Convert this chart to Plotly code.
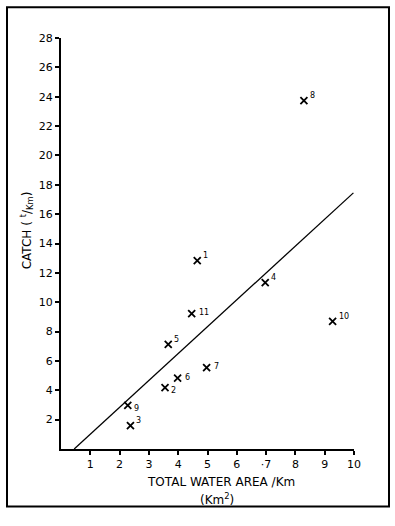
import plotly.graph_objects as go

# Data
site_labels = ["1", "2", "3", "4", "5", "6", "7", "8", "9", "10", "11"]
water_area = [4.65, 3.55, 2.37, 6.97, 3.66, 3.98, 4.97, 8.29, 2.28, 9.27, 4.46]
catch = [12.84, 4.18, 1.59, 11.34, 7.13, 4.83, 5.54, 23.74, 2.97, 8.70, 9.22]
label_kind = ["sup", "sub", "sup", "sup", "sup", "mid", "mid", "sup", "sub", "sup", "mid"]

fit_x = [0.45, 9.98]
fit_y = [0.0, 17.45]

x_ticks = [1, 2, 3, 4, 5, 6, 7, 8, 9, 10]
x_ticktext = ["1", "2", "3", "4", "5", "6", "·7", "8", "9", "10"]
y_ticks = [2, 4, 6, 8, 10, 12, 14, 16, 18, 20, 22, 24, 26, 28]

FONT = "DejaVu Sans"

fig = go.Figure()
fig.add_trace(go.Scatter(
    x=fit_x, y=fit_y, mode="lines",
    line=dict(color="black", width=1.3), hoverinfo="skip", showlegend=False))
fig.add_trace(go.Scatter(
    x=water_area, y=catch, mode="markers",
    marker=dict(symbol="x-thin", size=7, line=dict(color="black", width=1.8), color="black"),
    showlegend=False))

L, T = 61, 37.7
W, H = 293, 410.9
def px(x):
    return (x - L) / W
def py(y):
    return (T + H - y) / H

shift = {"sup": (4, 5), "sub": (4, -3), "mid": (5, 1)}
annotations = []
for xv, yv, lab, kind in zip(water_area, catch, site_labels, label_kind):
    dx, dy = shift[kind]
    annotations.append(dict(x=xv, y=yv, xref="x", yref="y", text=lab, showarrow=False,
                            xanchor="left", yanchor="middle", xshift=dx, yshift=dy,
                            font=dict(size=8, color="black", family=FONT)))

annotations += [
    dict(text="TOTAL WATER AREA /Km", xref="paper", yref="paper",
         x=px(221), y=py(482), xanchor="center", yanchor="middle",
         showarrow=False, font=dict(size=12)),
    dict(text="(Km<sup>2</sup>)", xref="paper", yref="paper",
         x=px(217), y=py(499), xanchor="center", yanchor="middle",
         showarrow=False, font=dict(size=12)),
    dict(text="CATCH ( <sup>t</sup>/<sub>Km</sub>)", xref="paper", yref="paper",
         x=px(27), y=py(230), xanchor="center", yanchor="middle", textangle=-90,
         showarrow=False, font=dict(size=12)),
]

fig.update_layout(
    width=395, height=526,
    margin=dict(l=L, r=395 - L - W, t=T, b=526 - T - H),
    paper_bgcolor="white", plot_bgcolor="white",
    font=dict(family=FONT, size=11, color="black"),
    xaxis=dict(range=[0, 10], tickvals=x_ticks, ticktext=x_ticktext,
               showgrid=False, zeroline=False, showline=True, linecolor="black",
               linewidth=2, ticks="outside", ticklen=4, tickwidth=1.5, tickcolor="black",
               tickfont=dict(size=11)),
    yaxis=dict(range=[0, 28], tickvals=y_ticks,
               showgrid=False, zeroline=False, showline=True, linecolor="black",
               linewidth=2, ticks="outside", ticklen=4, tickwidth=1.5, tickcolor="black",
               tickfont=dict(size=11)),
    shapes=[dict(type="rect", xref="paper", yref="paper",
                 x0=px(7), x1=px(389), y0=py(506), y1=py(7),
                 line=dict(color="black", width=2))],
    annotations=annotations,
)

fig.write_html("out.html", config={"displayModeBar": False},
               post_script="document.body.style.margin='0';")
